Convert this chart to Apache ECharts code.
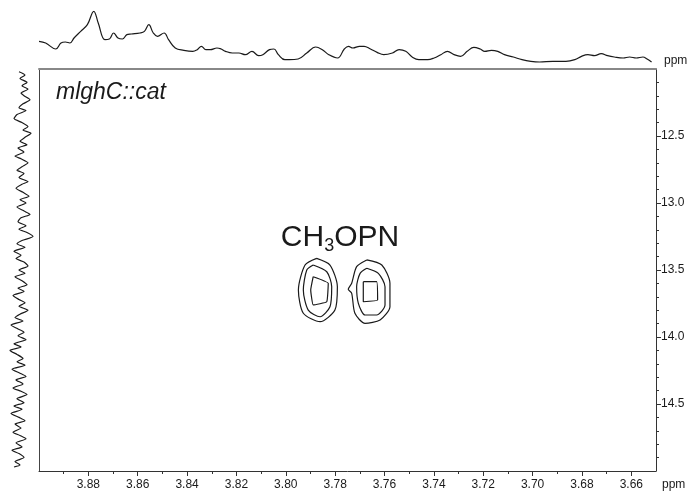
<!DOCTYPE html>
<html>
<head>
<meta charset="utf-8">
<script src="https://cdn.jsdelivr.net/npm/echarts@6/dist/echarts.min.js"></script>
<style>
  html, body { margin: 0; padding: 0; background: #fff; }
  #chart { width: 691px; height: 493px; }
</style>
</head>
<body>
<div id="chart"></div>
<script>
// axis ranges (ppm)
var xRange = [3.65, 3.90];
var yRange = [12.0, 15.0];

// tick values
var xMajor = [3.66, 3.68, 3.70, 3.72, 3.74, 3.76, 3.78, 3.80, 3.82, 3.84, 3.86, 3.88];
var xMinor = [3.67, 3.69, 3.71, 3.73, 3.75, 3.77, 3.79, 3.81, 3.83, 3.85, 3.87, 3.89];
var yMajor = [12.5, 13.0, 13.5, 14.0, 14.5];
var yMinor = [12.1, 12.2, 12.3, 12.4, 12.6, 12.7, 12.8, 12.9, 13.1, 13.2, 13.3, 13.4,
  13.6, 13.7, 13.8, 13.9, 14.1, 14.2, 14.3, 14.4, 14.6, 14.7, 14.8, 14.9];

// 2D contours [x ppm, y ppm], closed rings
var leftOuter = [[3.7875,13.413],[3.7821,13.463],[3.7791,13.625],[3.7801,13.799],[3.7861,13.886],
  [3.7929,13.823],[3.7949,13.649],[3.7922,13.463],[3.7875,13.413]];
var leftMiddle = [[3.7889,13.463],[3.7834,13.513],[3.7814,13.625],[3.7821,13.774],[3.7861,13.849],
  [3.7909,13.799],[3.7929,13.649],[3.7915,13.500],[3.7889,13.463]];
var leftInner = [[3.7889,13.550],[3.7828,13.599],[3.7834,13.737],[3.7889,13.761],[3.7899,13.649],[3.7889,13.550]];
var rightOuter = [[3.7672,13.425],[3.7611,13.463],[3.7578,13.599],[3.7578,13.774],[3.7618,13.873],
  [3.7679,13.898],[3.7720,13.823],[3.7733,13.674],[3.7747,13.644],[3.7733,13.599],[3.7713,13.475],[3.7672,13.425]];
var rightMiddle = [[3.7672,13.487],[3.7625,13.525],[3.7598,13.625],[3.7598,13.761],[3.7632,13.836],
  [3.7679,13.836],[3.7706,13.749],[3.7713,13.625],[3.7699,13.525],[3.7672,13.487]];
var rightInner = [[3.7686,13.587],[3.7632,13.587],[3.7628,13.724],[3.7686,13.737],[3.7686,13.587]];

// top 1D projection [ppm, intensity]
var topTrace = [[3.9000,65],[3.8973,60],[3.8932,42],[3.8911,60],[3.8893,63],[3.8875,60],[3.8858,75],
  [3.8831,95],[3.8804,115],[3.8778,155],[3.8760,120],[3.8733,70],[3.8715,72],[3.8698,90],[3.8680,75],
  [3.8662,72],[3.8644,85],[3.8626,87],[3.8591,90],[3.8573,95],[3.8555,115],[3.8537,90],[3.8520,80],
  [3.8493,90],[3.8475,70],[3.8448,45],[3.8413,38],[3.8377,35],[3.8359,40],[3.8342,50],[3.8324,40],
  [3.8306,40],[3.8279,45],[3.8262,42],[3.8244,35],[3.8217,30],[3.8190,30],[3.8164,25],[3.8137,35],
  [3.8110,22],[3.8093,25],[3.8066,40],[3.8048,42],[3.8030,25],[3.8004,10],[3.7986,10],[3.7950,12],
  [3.7915,30],[3.7879,48],[3.7852,40],[3.7826,25],[3.7790,15],[3.7763,42],[3.7746,50],[3.7728,45],
  [3.7701,50],[3.7683,50],[3.7657,42],[3.7630,32],[3.7603,25],[3.7568,30],[3.7541,40],[3.7514,35],
  [3.7488,18],[3.7461,10],[3.7425,10],[3.7399,15],[3.7372,25],[3.7345,35],[3.7318,25],[3.7292,20],
  [3.7265,35],[3.7238,47],[3.7212,42],[3.7194,35],[3.7167,38],[3.7141,35],[3.7114,25],[3.7078,18],
  [3.7043,10],[3.7007,5],[3.6972,3],[3.6918,5],[3.6865,5],[3.6829,10],[3.6802,20],[3.6776,25],
  [3.6749,22],[3.6722,28],[3.6696,22],[3.6669,18],[3.6633,15],[3.6607,18],[3.6580,15],[3.6553,18],
  [3.6536,12],[3.6518,3]];

// left 1D projection [intensity, ppm]
var leftTrace = [[16,12.02],[22,12.045],[17,12.07],[24,12.10],[19,12.125],[25,12.15],[18,12.18],[21,12.20],
  [27,12.23],[20,12.26],[16,12.29],[23,12.31],[14,12.34],[11,12.37],[19,12.40],[25,12.43],[20,12.455],
  [28,12.48],[22,12.51],[17,12.54],[24,12.565],[15,12.59],[21,12.62],[12,12.65],[18,12.67],[25,12.70],
  [19,12.73],[14,12.755],[21,12.78],[16,12.81],[25,12.84],[19,12.86],[13,12.89],[20,12.92],[26,12.95],
  [17,12.975],[23,13.00],[14,13.03],[21,13.06],[27,13.085],[18,13.11],[15,13.14],[23,13.17],[16,13.195],
  [24,13.22],[30,13.25],[19,13.28],[14,13.305],[22,13.33],[11,13.36],[18,13.39],[13,13.415],[21,13.44],
  [25,13.47],[16,13.50],[22,13.525],[12,13.55],[19,13.58],[24,13.61],[15,13.635],[21,13.66],[10,13.69],
  [16,13.72],[22,13.745],[16,13.77],[25,13.80],[17,13.83],[12,13.855],[20,13.88],[8,13.91],[15,13.94],
  [21,13.965],[15,13.99],[23,14.02],[11,14.05],[18,14.075],[7,14.10],[14,14.13],[20,14.16],[14,14.185],
  [22,14.21],[9,14.24],[17,14.27],[23,14.295],[13,14.32],[20,14.35],[10,14.38],[18,14.405],[24,14.43],
  [14,14.46],[21,14.49],[11,14.515],[19,14.54],[8,14.57],[16,14.60],[22,14.625],[12,14.65],[18,14.68],
  [10,14.71],[17,14.735],[23,14.76],[13,14.79],[19,14.82],[9,14.845],[16,14.87],[21,14.90],[12,14.93],
  [17,14.955],[11,14.97]];

var FONT = '"Liberation Sans", Arial, sans-serif';
var INK = '#1a1a1a';

function trace(name, data, xi, yi, smooth) {
  return {
    name: name, type: 'line', data: data, xAxisIndex: xi, yAxisIndex: yi,
    showSymbol: false, smooth: smooth, silent: true, animation: false,
    lineStyle: { color: INK, width: 1.2 }
  };
}

var myChart = echarts.init(document.getElementById('chart'), null, { renderer: 'canvas' });
var option = {
  backgroundColor: '#fff',
  animation: false,
  grid: [
    { left: 39, right: 35, top: 69, bottom: 22, outerBoundsMode: 'none' },
    { left: 39, right: 35, top: 11, height: 52, outerBoundsMode: 'none' },
    { left: 3, width: 30, top: 69, bottom: 22, outerBoundsMode: 'none' }
  ],
  xAxis: [
    { gridIndex: 0, type: 'value', min: xRange[0], max: xRange[1], inverse: true, position: 'bottom',
      axisLine: { lineStyle: { color: '#333', width: 1 } },
      axisTick: { customValues: xMajor, length: 5, lineStyle: { color: '#333' } },
      axisLabel: { customValues: xMajor, formatter: function (v) { return v.toFixed(2); },
        fontSize: 12, color: INK, margin: 8, fontFamily: FONT },
      splitLine: { show: false } },
    { gridIndex: 0, type: 'value', min: xRange[0], max: xRange[1], inverse: true, position: 'bottom',
      axisLine: { show: false },
      axisTick: { customValues: xMinor, length: 3, lineStyle: { color: '#333' } },
      axisLabel: { show: false }, splitLine: { show: false } },
    { gridIndex: 0, type: 'value', min: xRange[0], max: xRange[1], inverse: true, position: 'top',
      axisLine: { lineStyle: { color: '#888', width: 2 } },
      axisTick: { show: false }, axisLabel: { show: false }, splitLine: { show: false } },
    { gridIndex: 1, type: 'value', min: xRange[0], max: xRange[1], inverse: true, show: false },
    { gridIndex: 2, type: 'value', min: 0, max: 30, show: false }
  ],
  yAxis: [
    { gridIndex: 0, type: 'value', min: yRange[0], max: yRange[1], inverse: true, position: 'right',
      axisLine: { show: true, lineStyle: { color: '#333', width: 1 } },
      axisTick: { show: true, customValues: yMajor, length: 5, lineStyle: { color: '#333' } },
      axisLabel: { customValues: yMajor, formatter: function (v) { return v.toFixed(1); },
        fontSize: 12, color: INK, margin: 5, fontFamily: FONT },
      splitLine: { show: false } },
    { gridIndex: 0, type: 'value', min: yRange[0], max: yRange[1], inverse: true, position: 'right',
      axisLine: { show: false },
      axisTick: { show: true, customValues: yMinor, length: 3, lineStyle: { color: '#333' } },
      axisLabel: { show: false }, splitLine: { show: false } },
    { gridIndex: 0, type: 'value', min: yRange[0], max: yRange[1], inverse: true, position: 'left',
      axisLine: { show: true, lineStyle: { color: '#444', width: 1 } },
      axisTick: { show: false }, axisLabel: { show: false }, splitLine: { show: false } },
    { gridIndex: 1, type: 'value', min: 0, max: 156, show: false },
    { gridIndex: 2, type: 'value', min: yRange[0], max: yRange[1], inverse: true, show: false }
  ],
  series: [
    trace('leftOuter', leftOuter, 0, 0, 0.25),
    trace('leftMiddle', leftMiddle, 0, 0, 0.25),
    trace('leftInner', leftInner, 0, 0, 0.1),
    trace('rightOuter', rightOuter, 0, 0, 0.25),
    trace('rightMiddle', rightMiddle, 0, 0, 0.25),
    trace('rightInner', rightInner, 0, 0, 0.1),
    trace('top', topTrace, 3, 3, 0.4),
    trace('left', leftTrace, 4, 4, 0.2)
  ],
  graphic: [
    { type: 'text', left: 56, top: 81, silent: true,
      style: { text: 'mlghC::cat', fontSize: 23, fontStyle: 'italic', fontFamily: FONT, fill: INK } },
    { type: 'text', x: 340, y: 238, silent: true,
      style: { text: '{a|CH}{b|3}{a|OPN}', align: 'center', verticalAlign: 'middle', fill: INK,
        rich: {
          a: { fontSize: 30, lineHeight: 34, fontFamily: FONT, fill: INK },
          b: { fontSize: 18, lineHeight: 14, verticalAlign: 'bottom', fontFamily: FONT, fill: INK }
        } } },
    { type: 'text', x: 664, y: 61, silent: true,
      style: { text: 'ppm', fontSize: 12, fontFamily: FONT, fill: INK, verticalAlign: 'middle' } },
    { type: 'text', x: 662, y: 485, silent: true,
      style: { text: 'ppm', fontSize: 12, fontFamily: FONT, fill: INK, verticalAlign: 'middle' } }
  ]
};
myChart.setOption(option);
</script>
</body>
</html>
